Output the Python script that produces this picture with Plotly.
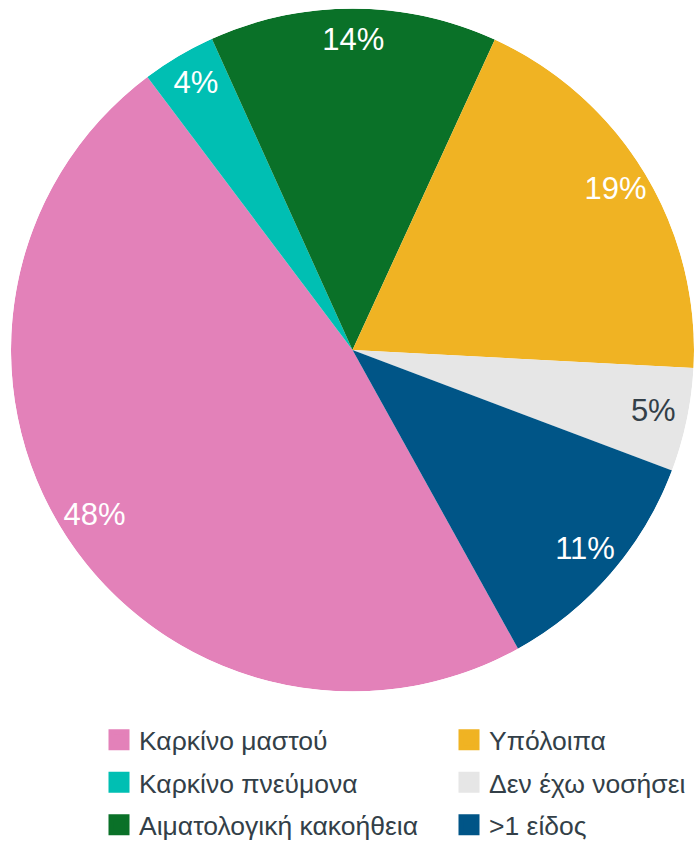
import plotly.graph_objects as go

categories = ["Καρκίνο μαστού", "Καρκίνο πνεύμονα", "Αιματολογική κακοήθεια",
              "Υπόλοιπα", "Δεν έχω νοσήσει", ">1 είδος"]
values = [47.8, 3.5, 13.6, 19.0, 4.9, 11.2]
pct_labels = ["48%", "4%", "14%", "19%", "5%", "11%"]
colors = ["#E381B9", "#00BFB3", "#0A7128", "#F0B323", "#E6E6E6", "#005587"]
label_colors = ["white", "white", "white", "white", "#333F48", "white"]
legend_of = ["legend", "legend", "legend", "legend2", "legend2", "legend2"]

start_angle = 151.0
total = sum(values)
spans = [v / total * 360.0 for v in values]
mids = []
acc = start_angle
for s in spans:
    mids.append((acc + s / 2.0) % 360)
    acc += s

FONT = "Arial, Liberation Sans, sans-serif"
fig = go.Figure()

for i, cat in enumerate(categories):
    fig.add_trace(go.Barpolar(
        r=[1.0], theta=[mids[i]], width=[spans[i]], base=0,
        marker=dict(color=colors[i], line=dict(width=0)),
        name=cat, legendgroup=cat, showlegend=False,
        hovertemplate=cat + ": " + pct_labels[i] + "<extra></extra>",
    ))

fig.add_trace(go.Scatterpolar(
    r=[0.9] * len(values), theta=mids, mode="text", text=pct_labels,
    textfont=dict(family=FONT, size=31, color=label_colors),
    showlegend=False, hoverinfo="skip",
))

for i, cat in enumerate(categories):
    fig.add_trace(go.Scatterpolar(
        r=[None], theta=[None], mode="markers",
        marker=dict(symbol="square", size=16, color=colors[i],
                    line=dict(width=5, color=colors[i])),
        name=cat, legendgroup=cat, legend=legend_of[i], showlegend=True,
    ))

W, H = 694, 842
cx, cy, R = 352.5, 350.0, 341.5
legend_common = dict(xanchor="left", yanchor="top", orientation="v",
                     tracegroupgap=5, itemsizing="trace",
                     font=dict(family=FONT, size=26.5, color="#333F48"),
                     bgcolor="rgba(0,0,0,0)")
fig.update_layout(
    width=W, height=H,
    margin=dict(l=0, r=0, t=0, b=0, autoexpand=False),
    paper_bgcolor="white", plot_bgcolor="white",
    polar=dict(
        domain=dict(x=[(cx - R) / W, min(1.0, (cx + R) / W)],
                    y=[1 - (cy + R) / H, 1 - (cy - R) / H]),
        bgcolor="white",
        radialaxis=dict(visible=False, range=[0, 1]),
        angularaxis=dict(visible=False, direction="clockwise", rotation=90),
    ),
    legend=dict(x=99 / W, y=1 - 716 / H, **legend_common),
    legend2=dict(x=449 / W, y=1 - 716 / H, **legend_common),
    showlegend=True,
)

fig.write_html("out.html",
               config={"displayModeBar": False},
               post_script="document.body.style.margin='0px';"
                           "document.body.style.overflow='hidden';")
